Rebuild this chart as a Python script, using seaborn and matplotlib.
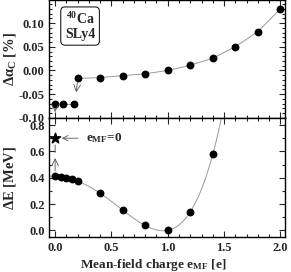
import numpy as np
import pandas as pd
import seaborn as sns
import matplotlib.pyplot as plt
from matplotlib.ticker import MultipleLocator

# data
x_da = [0.0, 0.07, 0.17, 0.2, 0.4, 0.6, 0.8, 1.0, 1.2, 1.4, 1.6, 1.8, 2.0]
d_alpha = [-0.070, -0.070, -0.070, -0.017, -0.015, -0.011, -0.007, 0.000,
           0.011, 0.026, 0.050, 0.082, 0.130]

x_de = [0.0, 0.05, 0.1, 0.15, 0.2, 0.4, 0.6, 0.8, 1.0, 1.2, 1.4]
d_e = [0.410, 0.407, 0.400, 0.387, 0.376, 0.280, 0.153, 0.038, 0.000, 0.140, 0.578]

star_x = [0.0]
star_e = [0.70]

top = pd.DataFrame({'x': x_da, 'y': d_alpha})
bot = pd.DataFrame({'x': x_de, 'y': d_e})

sns.set_theme(style="ticks")
plt.rcParams['font.family'] = ['Liberation Serif', 'DejaVu Serif']
plt.rcParams['font.weight'] = 'bold'
plt.rcParams['axes.labelweight'] = 'bold'
plt.rcParams['mathtext.fontset'] = 'custom'
plt.rcParams['mathtext.rm'] = 'Liberation Serif:bold'
plt.rcParams['mathtext.it'] = 'Liberation Serif:bold'
plt.rcParams['mathtext.bf'] = 'Liberation Serif:bold'
plt.rcParams['mathtext.default'] = 'bf'
plt.rcParams['axes.unicode_minus'] = False

fig, (ax1, ax2) = plt.subplots(2, 1, figsize=(2.91, 2.72), dpi=100, sharex=True)
fig.subplots_adjust(left=0.170, right=0.979, top=1.0, bottom=0.129, hspace=0)

line_c = '#999999'
arr_c = '#555555'

# top panel
ax2.set_xlim(-0.05, 2.04)
sns.lineplot(data=top.iloc[3:], x='x', y='y', ax=ax1, color=line_c, lw=0.7)
sns.lineplot(data=top.iloc[:3], x='x', y='y', ax=ax1, color=line_c, lw=0.7)
sns.scatterplot(data=top, x='x', y='y', ax=ax1, color='black', s=32,
                linewidth=0, zorder=3)
ax1.annotate('', xy=(0.185, -0.052), xytext=(x_da[3], d_alpha[3] - 0.003),
             arrowprops=dict(arrowstyle='->', color=arr_c, lw=0.6))
ax1.annotate('', xy=(0.0, -0.094), xytext=(x_da[0], d_alpha[0] - 0.004),
             arrowprops=dict(arrowstyle='->', color=arr_c, lw=0.6))
ax1.text(0.13, 0.78, '$^{40}$Ca\nSLy4', transform=ax1.transAxes, ha='center',
         va='center', fontsize=10, fontweight='bold', linespacing=1.1,
         bbox=dict(boxstyle='round,pad=0.3', fc='white', ec='black', lw=0.7))
ax1.set_ylim(-0.1015, 0.149)
ax1.set_ylabel(r'$\Delta\alpha_C$ [%]', fontsize=10.5)
ax1.yaxis.set_major_locator(MultipleLocator(0.05))
ax1.yaxis.set_minor_locator(MultipleLocator(0.01))
ax1.yaxis.set_major_formatter(plt.FormatStrFormatter('%.2f'))

# bottom panel
ax2.set_ylim(-0.05, 0.85)
sns.regplot(data=bot, x='x', y='y', ax=ax2, order=4, scatter=False, ci=None,
            truncate=False, line_kws=dict(color=line_c, lw=0.7))
sns.scatterplot(data=bot, x='x', y='y', ax=ax2, color='black', s=32,
                linewidth=0, zorder=3)
ax2.scatter(star_x, star_e, marker='*', s=60, color='black', zorder=4)
ax2.annotate('', xy=(0.0, 0.57), xytext=(x_de[0], d_e[0] + 0.02),
             arrowprops=dict(arrowstyle='->', color=arr_c, lw=0.6))
ax2.annotate('', xy=(0.0, star_e[0] - 0.03), xytext=(0.0, 0.57),
             arrowprops=dict(arrowstyle='-', color=arr_c, lw=0.6))
ax2.annotate(r'$e_{MF}$=0', xy=(0.06, star_e[0]), xytext=(0.27, star_e[0]),
             va='center', ha='left', fontsize=9.5, fontweight='bold',
             arrowprops=dict(arrowstyle='->', color=arr_c, lw=0.6,
                             shrinkA=3, shrinkB=0))
ax2.set_xlim(-0.05, 2.04)
ax2.set_ylim(-0.05, 0.85)
ax2.set_ylabel(r'$\Delta$E [MeV]', fontsize=10.5)
ax2.set_xlabel(r'Mean-field charge $e_{MF}$ [e]', fontsize=9.5)
ax2.xaxis.set_label_coords(0.44, -0.17)
ax2.yaxis.set_major_locator(MultipleLocator(0.2))
ax2.yaxis.set_minor_locator(MultipleLocator(0.1))
ax2.yaxis.set_major_formatter(plt.FormatStrFormatter('%.1f'))
ax2.xaxis.set_major_locator(MultipleLocator(0.5))
ax2.xaxis.set_minor_locator(MultipleLocator(0.1))
ax2.xaxis.set_major_formatter(plt.FormatStrFormatter('%.1f'))

for ax in (ax1, ax2):
    ax.tick_params(which='both', direction='in', top=True, right=True,
                   labelsize=9, width=0.8)
    ax.tick_params(which='major', length=4)
    ax.tick_params(which='minor', length=2)
    for sp in ax.spines.values():
        sp.set_linewidth(1.0)
        sp.set_color('black')
    for lab in ax.get_xticklabels() + ax.get_yticklabels():
        lab.set_fontweight('bold')
ax1.set_xlabel('')
for ax in (ax1, ax2):
    ax.yaxis.set_label_coords(-0.135, 0.5)

fig.savefig('out.png', dpi=100)
